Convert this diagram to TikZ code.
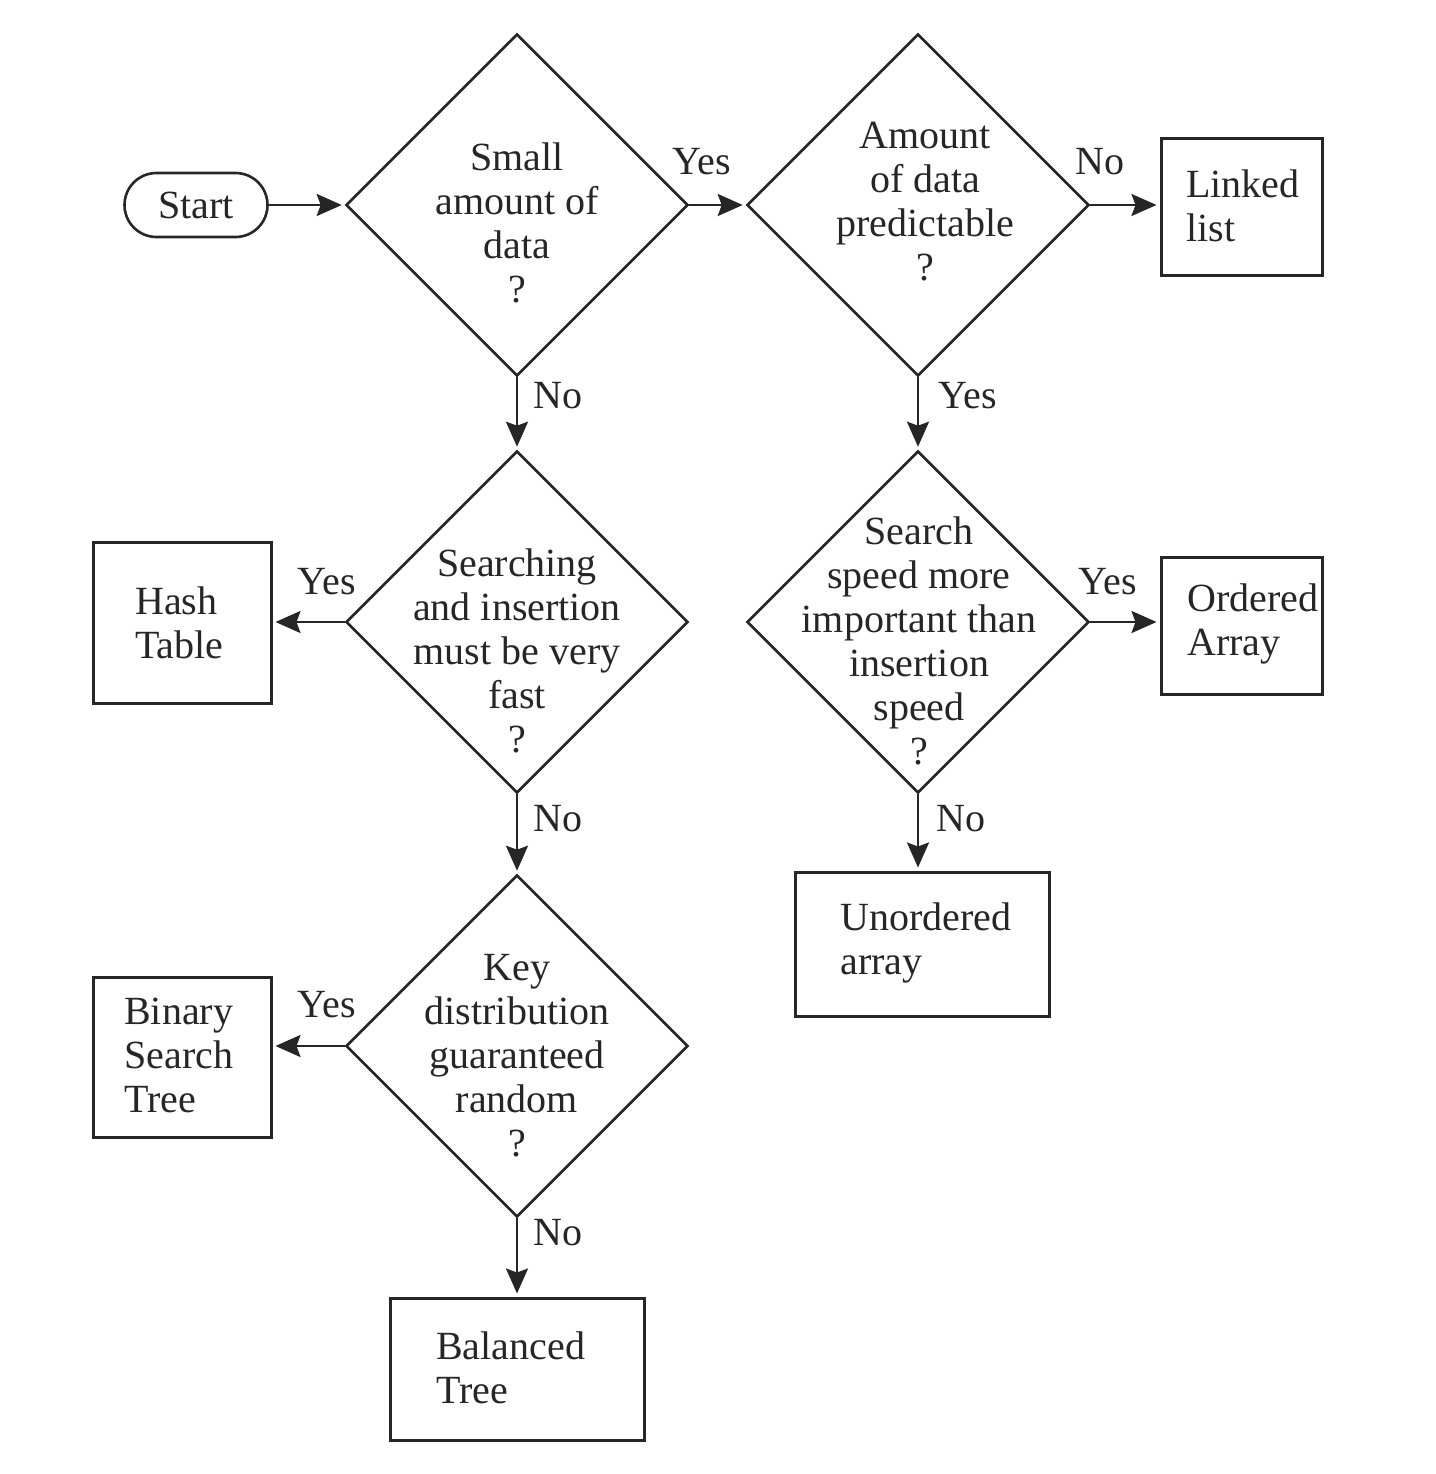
\documentclass[tikz,border=0pt]{standalone}
\usepackage{fontspec}
\setmainfont{Liberation Serif}
\usetikzlibrary{arrows.meta,shapes.geometric}
\definecolor{ink}{HTML}{262626}
\begin{document}
\begin{tikzpicture}[x=0.5pt,y=-0.5pt,
  font=\fontsize{20}{22}\selectfont,
  line width=1.3pt,
  every node/.style={text=ink},
  decision/.style={diamond, draw=ink, inner sep=0pt, minimum width=171pt, minimum height=171pt},
  outcome/.style={rectangle, draw=ink, inner sep=0pt, line width=1.5pt},
  terminal/.style={rectangle, rounded corners=16pt, draw=ink, inner sep=0pt, minimum width=71.5pt, minimum height=32pt},
  qtext/.style={align=center, inner sep=0pt},
  btext/.style={align=left, anchor=west, inner sep=0pt},
  answer/.style={inner sep=0pt},
  flow/.style={draw=ink, -{Stealth[length=12.5pt,width=11pt,inset=2pt]}, shorten >=1.5pt}]

% page frame
\useasboundingbox (0,0) rectangle (1436,1474);

% start terminal
\node[terminal] (start) at (196,205) {Start};

% decisions
\node[decision] (d1) at (517,205) {};
\node[decision] (d2) at (918,205) {};
\node[decision] (d3) at (517,622) {};
\node[decision] (d4) at (918,622) {};
\node[decision] (d5) at (517,1046) {};

\node[qtext] (d1t) at (517,223) {Small\\amount of\\data\\?};
\node[qtext] (d2t) at (925,202) {Amount\\of data\\predictable\\?};
\node[qtext] (d3t) at (517,651) {Searching\\and insertion\\must be very\\fast\\?};
\node[qtext] (d4t) at (919,641) {Search\\speed more\\important than\\insertion\\speed\\?};
\node[qtext] (d5t) at (517,1056) {Key\\distribution\\guaranteed\\random\\?};

% outcomes
\node[outcome, minimum width=80.5pt, minimum height=68.5pt] (ll) at (1241.5,206.5) {};
\node[btext] (llt) at (1185,206) {Linked\\list};

\node[outcome, minimum width=89pt, minimum height=80.5pt] (ht) at (182,622.5) {};
\node[btext] (htt) at (134,623) {Hash\\Table};

\node[outcome, minimum width=80.5pt, minimum height=68.5pt] (oa) at (1241.5,625.5) {};
\node[btext] (oat) at (1186,624) {Ordered\\Array};

\node[outcome, minimum width=127pt, minimum height=72pt] (ua) at (922,944) {};
\node[btext] (uat) at (839,943) {Unordered\\array};

\node[outcome, minimum width=89pt, minimum height=80pt] (bst) at (182,1057) {};
\node[btext] (bstt) at (123,1055) {Binary\\Search\\Tree};

\node[outcome, minimum width=127pt, minimum height=71pt] (bt) at (517,1369) {};
\node[btext] (btt) at (435,1368) {Balanced\\Tree};

% connectors
\draw[flow] (start.east) -- (d1.west);
\draw[flow] (d1.east) -- (d2.west);
\draw[flow] (d2.east) -- (ll.west |- d2.east);
\draw[flow] (d1.south) -- (d3.north);
\draw[flow] (d2.south) -- (d4.north);
\draw[flow] (d3.west) -- (ht.east |- d3.west);
\draw[flow] (d3.south) -- (d5.north);
\draw[flow] (d4.east) -- (oa.west |- d4.east);
\draw[flow] (d4.south) -- (d4.south |- ua.north);
\draw[flow] (d5.west) -- (bst.east |- d5.west);
\draw[flow] (d5.south) -- (bt.north);

% answers
\node[answer] (a12) at (702,162) {Yes};
\node[answer] (a2l) at (1100,162) {No};
\node[answer] (a13) at (558,396) {No};
\node[answer] (a24) at (968,396) {Yes};
\node[answer] (a3h) at (327,582) {Yes};
\node[answer] (a35) at (558,819) {No};
\node[answer] (a4o) at (1108,582) {Yes};
\node[answer] (a4u) at (961,819) {No};
\node[answer] (a5b) at (327,1005) {Yes};
\node[answer] (a5t) at (558,1233) {No};
\end{tikzpicture}
\end{document}
